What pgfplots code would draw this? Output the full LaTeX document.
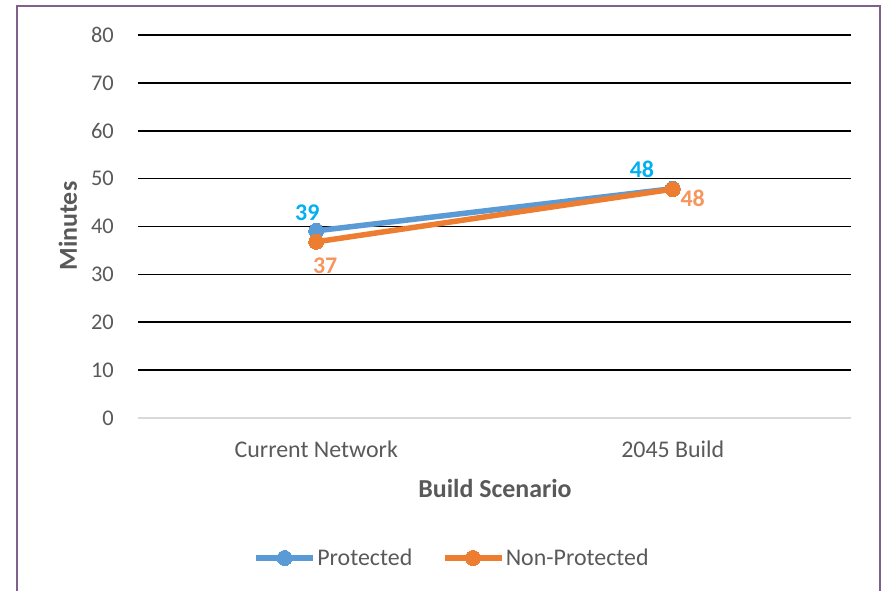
\documentclass[border=0pt]{standalone}
\usepackage{fontspec}
\setmainfont{Carlito}
\usepackage{pgfplots}
\pgfplotsset{compat=1.18}
\definecolor{pblue}{HTML}{5B9BD5}
\definecolor{porange}{HTML}{ED7D31}
\definecolor{lblue}{HTML}{00B0F0}
\definecolor{lorange}{HTML}{F4965E}
\definecolor{txt}{HTML}{595959}
\definecolor{framec}{RGB}{128,96,140}
\begin{document}
\begin{tikzpicture}[x=1bp,y=1bp]
\useasboundingbox (0,0) rectangle (884,591);
\draw[framec, line width=2bp] (17,-10) -- (17,585) -- (880,585) -- (880,-10);
\begin{axis}[
  at={(138bp,173bp)}, anchor=south west,
  width=713bp, height=383bp, scale only axis,
  clip=false,
  xmin=0, xmax=2, ymin=0, ymax=80,
  xtick={0.5,1.5}, xticklabels={Current Network, 2045 Build},
  ytick={10,20,...,80},
  extra y ticks={0},
  extra y tick style={grid style={color=black!15, line width=1.5bp}},
  ymajorgrids=true,
  grid style={color=black, line width=1.6bp},
  axis line style={draw=none},
  major tick length=0pt,
  /pgf/number format/assume math mode=true,
  tick label style={font=\fontsize{22.5}{26}\selectfont, text=txt},
  xticklabel style={font=\fontsize{24}{28}\selectfont},
  yticklabel style={anchor=east, inner sep=0pt, xshift=-24bp},
  xticklabel style={anchor=center, inner sep=0pt, yshift=-31bp},
  xlabel={Build Scenario},
  ylabel={Minutes},
  label style={font=\fontsize{26}{30}\selectfont\bfseries, text=txt},
  xlabel style={at={(axis description cs:0.5007,-0.183)}, anchor=center},
  ylabel style={at={(axis description cs:-0.0982,0.501)}, anchor=center},
  legend style={at={(0.44,-0.3655)}, anchor=center, draw=none, fill=none,
    legend columns=2, font=\fontsize{24}{28}\selectfont, text=txt,
    /tikz/every even column/.append style={column sep=28bp},
    nodes={inner sep=1.5bp}},
  legend cell align=left,
  legend image code/.code={\draw[mark repeat=2,mark phase=2,#1] plot coordinates {(0bp,0bp) (28.5bp,0bp) (57bp,0bp)};},
  nodes near coords={\pgfmathprintnumber[fixed,precision=0]{\pgfplotspointmeta}},
  point meta=y,
  visualization depends on={value \coordindex \as \idx},
]
\addplot[color=pblue, line width=5.5bp, mark=*, mark size=7.5bp, mark options={fill=pblue, draw=pblue, line width=0pt},
  every node near coord/.append style={anchor=center, font=\fontsize{24}{28}\selectfont\bfseries, text=lblue,
    xshift={ifthenelse(\idx==0,-9,-31)}, yshift={ifthenelse(\idx==0,18,19)}}]
  coordinates {(0.5,39.1) (1.5,47.9)};
\addlegendentry{Protected}
\addplot[color=porange, line width=5.5bp, mark=*, mark size=7.5bp, mark options={fill=porange, draw=porange, line width=0pt},
  every node near coord/.append style={anchor=center, font=\fontsize{24}{28}\selectfont\bfseries, text=lorange,
    xshift={ifthenelse(\idx==0,9,20)}, yshift={ifthenelse(\idx==0,-24,-9)}}]
  coordinates {(0.5,36.8) (1.5,47.8)};
\addlegendentry{Non-Protected}
\end{axis}
\end{tikzpicture}
\end{document}
